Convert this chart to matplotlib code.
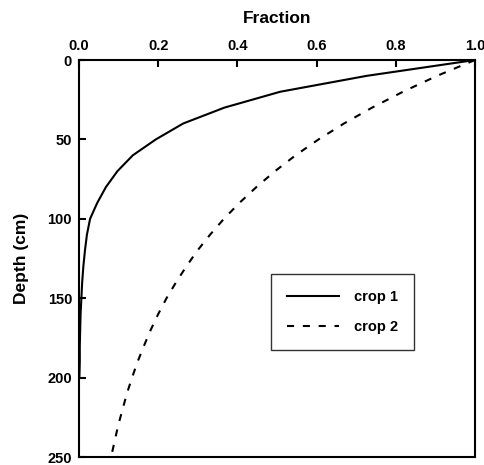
import matplotlib
matplotlib.use("Agg")
import matplotlib.pyplot as plt

depth = [0, 10, 20, 30, 40, 50, 60, 70, 80, 90, 100, 110, 120, 130, 140, 150,
         160, 170, 180, 190, 200, 210, 220, 230, 240, 250]
crop1 = [1.0, 0.726, 0.508, 0.367, 0.263, 0.194, 0.136, 0.097, 0.068, 0.046, 0.028,
         0.020, 0.015, 0.011, 0.008, 0.006, 0.004, 0.003, 0.002, 0.002, 0.001]
crop2 = [1.0, 0.904, 0.818, 0.740, 0.669, 0.605, 0.547, 0.495, 0.448, 0.405, 0.366,
         0.331, 0.299, 0.271, 0.245, 0.221, 0.200, 0.181, 0.164, 0.148, 0.134,
         0.121, 0.110, 0.099, 0.090, 0.081]
xticks = [0.0, 0.2, 0.4, 0.6, 0.8, 1.0]
xticklabels = ["0.0", "0.2", "0.4", "0.6", "0.8", "1.0"]
yticks = [0, 50, 100, 150, 200, 250]
labels = ["crop 1", "crop 2"]

plt.rcParams['font.family'] = ['Liberation Sans', 'DejaVu Sans']
plt.rcParams['font.weight'] = 'bold'

W, H = 485, 465
fig = plt.figure(figsize=(W / 100, H / 100), dpi=100)
ax = fig.add_axes([79 / W, (H - 457) / H, 396 / W, 397 / H])

ax.plot(crop1, depth[:len(crop1)], color='black', lw=1.5, label=labels[0])
ax.plot(crop2, depth[:len(crop2)], color='black', lw=1.5, dashes=(3.4, 4.2), label=labels[1])

ax.set_xlim(0, 1.0)
ax.set_ylim(250, 0)
ax.xaxis.tick_top()
ax.xaxis.set_label_position('top')
ax.set_xticks(xticks)
ax.set_xticklabels(xticklabels)
ax.set_yticks(yticks)
ax.tick_params(direction='in', length=5, width=1.5, labelsize=10.5, pad=5)
for t in ax.get_xticklabels() + ax.get_yticklabels():
    t.set_fontweight('bold')
for s in ax.spines.values():
    s.set_linewidth(1.5)

ax.set_xlabel("Fraction", fontsize=12.5, fontweight='bold', labelpad=11.5)
ax.set_ylabel("Depth (cm)", fontsize=12.5, fontweight='bold', labelpad=13)

leg = ax.legend(loc='center', bbox_to_anchor=(0.665, 0.365), frameon=True,
                fancybox=False, edgecolor='black', handlelength=3.6,
                handletextpad=1.0, labelspacing=1.05, borderpad=1.1,
                prop={'size': 10.5, 'weight': 'bold'})
leg.get_frame().set_linewidth(1.0)

fig.savefig("out.png", dpi=100)
